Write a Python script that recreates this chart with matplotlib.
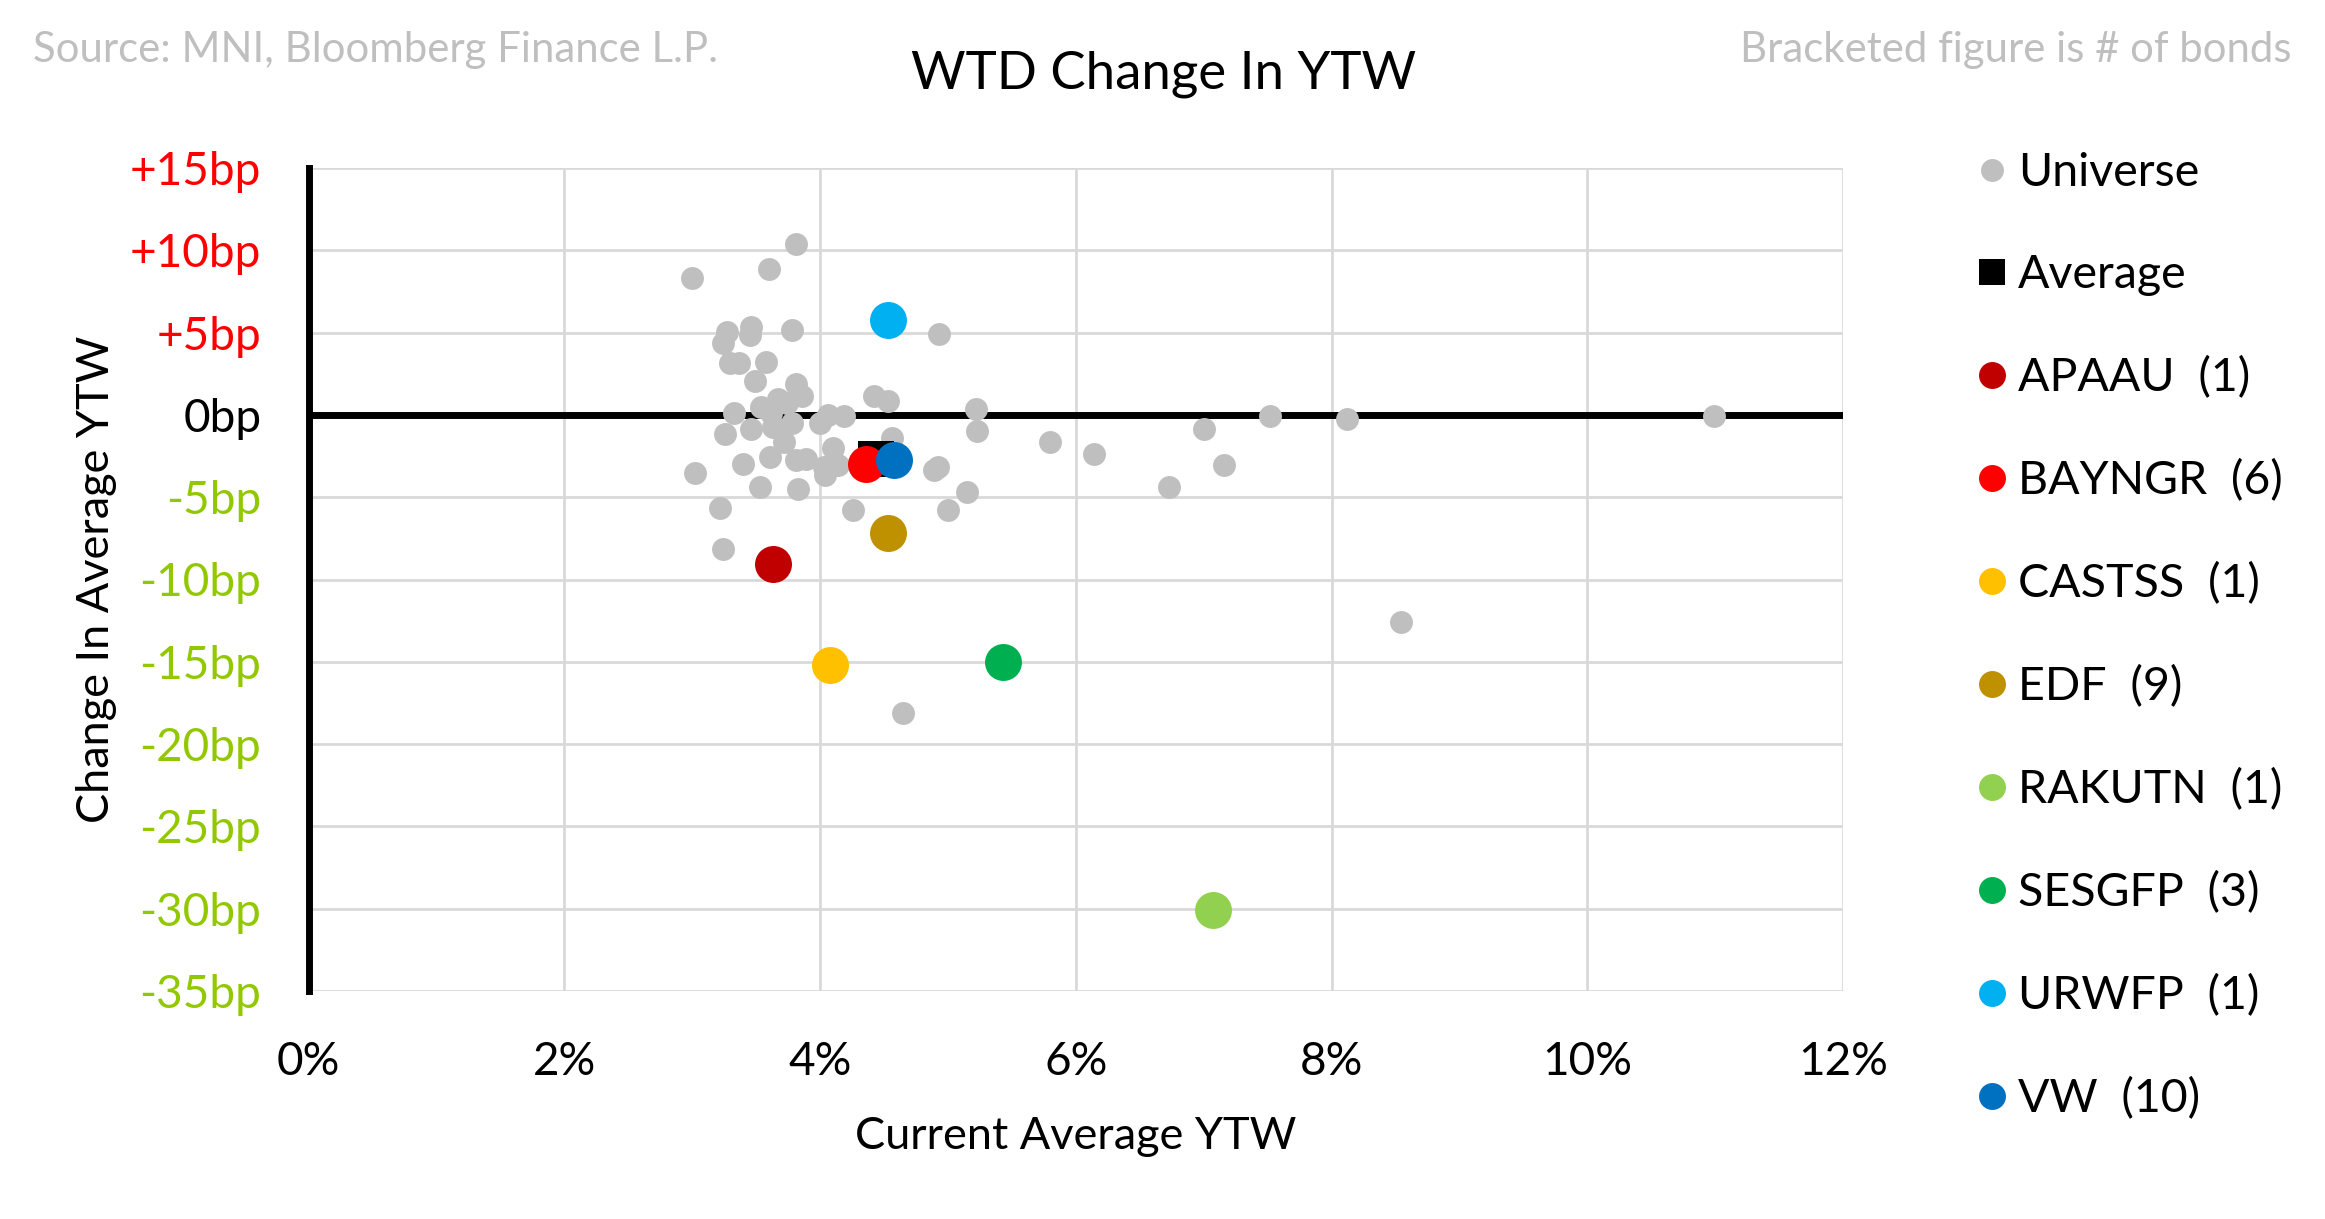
import matplotlib
matplotlib.use("Agg")
import matplotlib.pyplot as plt
from matplotlib.lines import Line2D

plt.rcParams['font.family'] = ['Lato', 'DejaVu Sans']

# ---------------- data ----------------
universe_x = [3.81, 3.00, 3.60, 3.27, 3.24, 3.46, 3.45, 3.78, 4.93, 3.30, 3.37, 3.58,
              3.49, 3.81, 3.86, 3.67, 3.54, 3.74, 3.33, 4.42, 4.53, 5.22, 5.23, 5.80,
              4.06, 4.19, 4.00, 3.26, 3.46, 3.63, 3.78, 3.62, 3.72, 4.56, 4.10, 3.61,
              3.40, 3.02, 3.81, 3.89, 4.03, 4.04, 4.14, 3.53, 3.83, 4.89, 4.92, 5.15,
              3.22, 4.26, 5.00, 3.24, 4.65, 6.14, 6.73, 7.00, 7.16, 7.52, 8.12, 8.54,
              10.99]
universe_y = [10.4, 8.3, 8.85, 5.06, 4.35, 5.37, 4.86, 5.16, 4.9, 3.14, 3.14, 3.2,
              2.03, 1.86, 1.17, 0.97, 0.5, 0.7, 0.1, 1.15, 0.85, 0.36, -0.99, -1.64,
              0.0, -0.06, -0.51, -1.17, -0.87, -0.71, -0.51, 0.1, -1.66, -1.42, -2.03, -2.53,
              -3.0, -3.5, -2.73, -2.7, -3.14, -3.65, -3.04, -4.39, -4.51, -3.34, -3.14, -4.7,
              -5.67, -5.77, -5.77, -8.16, -18.1, -2.39, -4.39, -0.87, -3.06, -0.06, -0.26, -12.6,
              -0.06]

average_x = [4.44]
average_y = [-2.67]

issuers = ["APAAU", "BAYNGR", "CASTSS", "EDF", "RAKUTN", "SESGFP", "URWFP", "VW"]
issuer_counts = [1, 6, 1, 9, 1, 3, 1, 10]
issuer_x = [3.63, 4.36, 4.08, 4.53, 7.07, 5.43, 4.53, 4.58]
issuer_y = [-9.07, -3.0, -15.2, -7.19, -30.1, -15.03, 5.77, -2.73]
issuer_colors = ["#C00000", "#FF0000", "#FFC000", "#BF9000", "#92D050", "#00B050",
                 "#00B0F0", "#0070C0"]

x_ticks = [0, 2, 4, 6, 8, 10, 12]
x_tick_labels = ["0%", "2%", "4%", "6%", "8%", "10%", "12%"]
y_ticks = [15, 10, 5, 0, -5, -10, -15, -20, -25, -30, -35]
y_tick_labels = ["+15bp", "+10bp", "+5bp", "0bp", "-5bp", "-10bp", "-15bp",
                 "-20bp", "-25bp", "-30bp", "-35bp"]

# ---------------- figure ----------------
W, H = 2325, 1219
fig = plt.figure(figsize=(W / 100, H / 100), dpi=100)
ax = fig.add_axes([308.5 / W, 1 - 991 / H, (1843 - 308.5) / W, (991 - 168) / H])

ax.set_xlim(0, 12)
ax.set_ylim(-35, 15)

ax.scatter(universe_x, universe_y, s=272, color="#BFBFBF", linewidths=0, zorder=3)
ax.scatter(average_x, average_y, s=708, marker="s", color="black", linewidths=0, zorder=4)
for xv, yv, c in zip(issuer_x, issuer_y, issuer_colors):
    ax.scatter([xv], [yv], s=708, color=c, linewidths=0, zorder=5)

ax.axhline(0, color="black", lw=5, zorder=2)

ax.set_xticks(x_ticks)
ax.set_xticklabels(x_tick_labels)
ax.set_yticks(y_ticks)
ax.set_yticklabels(y_tick_labels)
ax.grid(True, color="#D9D9D9", lw=2, zorder=0)
ax.set_axisbelow(True)
for sp in ["top", "right", "bottom"]:
    ax.spines[sp].set_visible(False)
ax.spines["left"].set_linewidth(5)
ax.spines["left"].set_color("black")
ax.spines["left"].set_zorder(2.5)

ax.tick_params(axis="both", length=0, labelsize=33)
ax.tick_params(axis="y", pad=34)
ax.tick_params(axis="x", pad=36)
for lbl, v in zip(ax.get_yticklabels(), y_ticks):
    lbl.set_color("#FF0000" if v > 0 else ("black" if v == 0 else "#92C800"))

ax.set_xlabel("Current Average YTW", fontsize=32.5, labelpad=24)
ax.set_ylabel("Change In Average YTW", fontsize=32.5, labelpad=9.5)

fig.text(1164 / W, 1 - 88 / H, "WTD Change In YTW", fontsize=38, ha="center", va="baseline")
fig.text(33 / W, 1 - 62 / H, "Source: MNI, Bloomberg Finance L.P.", fontsize=30.2,
         color="#BFBFBF", ha="left", va="baseline")
fig.text(2291 / W, 1 - 62 / H, "Bracketed figure is # of bonds", fontsize=30.2,
         color="#BFBFBF", ha="right", va="baseline")

handles = [Line2D([], [], ls="none", marker="o", markersize=16.5, color="#BFBFBF", mew=0),
           Line2D([], [], ls="none", marker="s", markersize=19.4, color="black", mew=0)]
labels = ["Universe", "Average"]
for name, cnt, c in zip(issuers, issuer_counts, issuer_colors):
    handles.append(Line2D([], [], ls="none", marker="o", markersize=19.4, color=c, mew=0))
    labels.append(f"{name}  ({cnt})")

fig.legend(handles, labels, loc="upper left", bbox_to_anchor=(1979 / W, 1 - 152 / H),
           frameon=False, fontsize=33.5, handlelength=0.57, handletextpad=0.27,
           labelspacing=1.29, borderpad=0, borderaxespad=0)

fig.savefig("out.png", dpi=100)
